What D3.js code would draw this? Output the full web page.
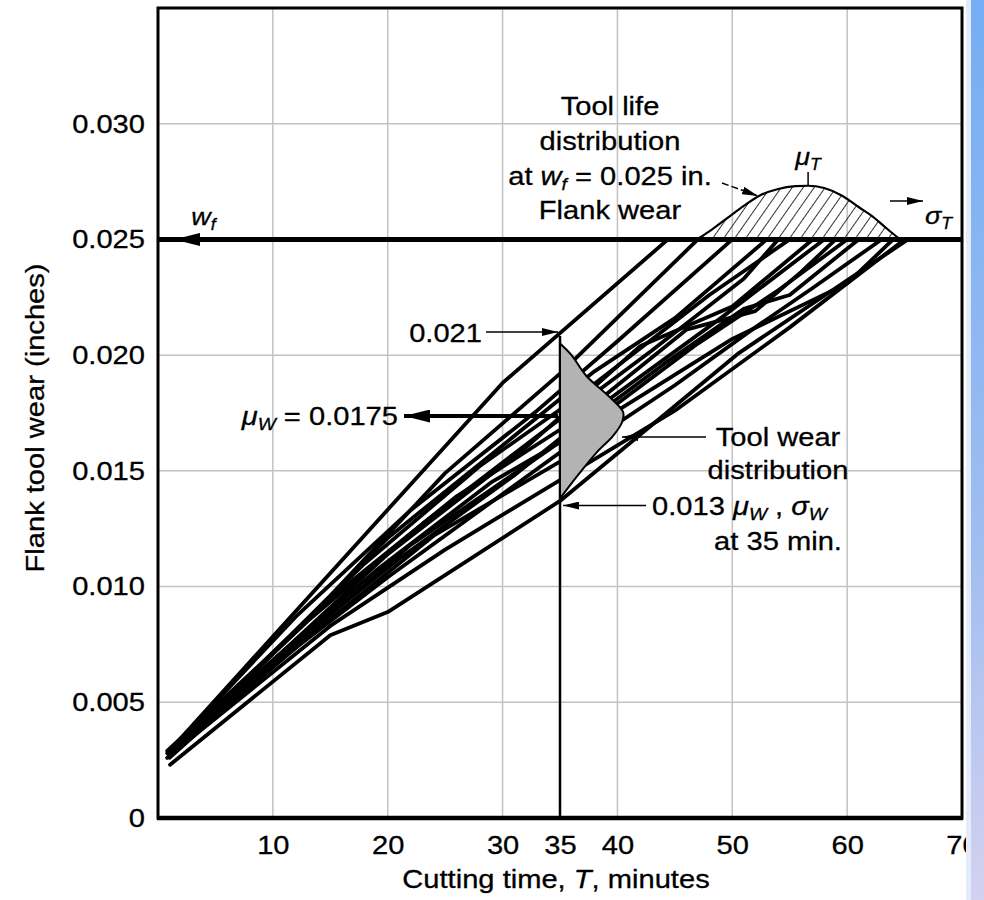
<!DOCTYPE html>
<html>
<head>
<meta charset="utf-8">
<script src="https://cdn.jsdelivr.net/npm/d3@7"></script>
<style>
  body { margin: 0; background: #fff; }
  svg { display: block; font-family: "Liberation Sans", Arial, sans-serif; }
</style>
</head>
<body>
<div id="chart"><svg></svg></div>
<script>
// ---- data ----
const timeTicks = [10, 20, 30, 35, 40, 50, 60, 70];
const wearTicks = [0, 0.005, 0.010, 0.015, 0.020, 0.025, 0.030];
const gridTimes = [10, 20, 30, 40, 50, 60];
const gridWears = [0.005, 0.010, 0.015, 0.020, 0.025, 0.030];
const flankLimit = 0.025;   // w_f
const sampleTime = 35;      // minutes
const wearHigh = 0.021;
const wearMean = 0.0175;
const wearLow = 0.0135;     // arrow position of the "0.013" note

// wear curves of the individual tools: [time (min), flank wear (in)]
const wearPaths = [
  [[0.8, 0.0028], [30, 0.0188], [44.4, 0.025]],
  [[1, 0.0027], [15, 0.0096], [25, 0.0149], [35, 0.0192], [47, 0.025]],
  [[1, 0.0029], [12, 0.0087], [22, 0.0133], [33, 0.0176], [40, 0.0206], [50, 0.025]],
  [[0.9, 0.0028], [13, 0.0085], [23, 0.0127], [33, 0.0165], [43, 0.0202], [51, 0.0233], [54, 0.025]],
  [[0.8, 0.0026], [10, 0.0071], [20, 0.0121], [30, 0.0161], [38, 0.0193], [45, 0.0216], [53, 0.025]],
  [[1, 0.0028], [8, 0.0062], [18, 0.0110], [28, 0.0152], [36, 0.0180], [48, 0.0226], [55, 0.025]],
  [[1, 0.0027], [10, 0.0068], [20, 0.0114], [32, 0.0160], [42, 0.0204], [50, 0.0221], [57, 0.025]],
  [[1, 0.0027], [11, 0.0072], [21, 0.0112], [31, 0.0148], [39, 0.0180], [49, 0.0216], [58, 0.025]],
  [[0.8, 0.0029], [6, 0.0053], [16, 0.0099], [26, 0.0139], [36, 0.0171], [46, 0.0211], [52, 0.0219], [56, 0.0236], [59, 0.025]],
  [[1, 0.0028], [9, 0.0064], [19, 0.0107], [29, 0.0145], [37, 0.0168], [47, 0.0205], [54, 0.0228], [60, 0.025]],
  [[1, 0.0026], [12, 0.0075], [22, 0.0118], [34, 0.0159], [44, 0.0196], [51, 0.0220], [55, 0.0226], [61, 0.025]],
  [[1, 0.0027], [14, 0.0082], [24, 0.0122], [35, 0.0154], [45, 0.0187], [52, 0.0212], [57, 0.0229], [63, 0.025]],
  [[1, 0.0028], [10, 0.0066], [20, 0.0104], [30, 0.0140], [40, 0.0176], [50, 0.0207], [60, 0.0231], [64, 0.025]],
  [[1, 0.0027], [15, 0.0083], [25, 0.0116], [35, 0.0146], [45, 0.0176], [55, 0.0212], [65, 0.025]],
  [[1.05, 0.0023], [15, 0.0079], [20, 0.0089], [35, 0.0137], [50.6, 0.0201], [65.3, 0.025]]
];

// tool life distribution sitting on the w_f line
const toolLifeCurve = [
  [46.9, 0.0250], [48, 0.02535], [49.5, 0.0259], [51, 0.02645], [52.4, 0.0269], [54, 0.02718],
  [55.5, 0.0273], [56.6, 0.02732], [58, 0.02722], [59.6, 0.02688], [61, 0.0264], [62.2, 0.0260],
  [63.5, 0.02545], [64.6, 0.0250]
];
const toolLifeMean = 56.6;

// tool wear distribution at 35 min (drawn sideways)
const toolWearCurve = [
  [35, 0.0205], [36.0, 0.0200], [37.3, 0.0191], [39.3, 0.0182], [40.5, 0.01753],
  [40.4, 0.0171], [39.6, 0.0165], [38.2, 0.0158], [36.7, 0.0149], [35.6, 0.0142], [35, 0.0138]
];

// ---- setup ----
const w = 984;
const h = 900;
const stretch = 1.12; // the lettering of the figure is a bit wide

const svg = d3.select("#chart svg")
  .attr("width", w)
  .attr("height", h)
  .style("background", "#fff");

const x = d3.scaleLinear().domain([0, 70]).range([158, 962]);
const y = d3.scaleLinear().domain([0, 0.035]).range([818, 8]);

const defs = svg.append("defs");

// hatch pattern for the tool life distribution
const hatch = defs.append("pattern")
  .attr("id", "hatch")
  .attr("patternUnits", "userSpaceOnUse")
  .attr("width", 9)
  .attr("height", 9)
  .attr("patternTransform", "rotate(35)");
hatch.append("line")
  .attr("x1", 0).attr("y1", 0).attr("x2", 0).attr("y2", 9)
  .attr("stroke", "#000").attr("stroke-width", 1.6);

// arrow heads
function marker(id, len, wid) {
  defs.append("marker")
    .attr("id", id)
    .attr("markerUnits", "userSpaceOnUse")
    .attr("viewBox", `0 0 ${len} ${wid}`)
    .attr("markerWidth", len)
    .attr("markerHeight", wid)
    .attr("refX", len)
    .attr("refY", wid / 2)
    .attr("orient", "auto")
    .append("path")
    .attr("d", `M0,0L${len},${wid / 2}L0,${wid}Z`)
    .attr("fill", "#000");
}
marker("arrow", 16, 8);
marker("arrowBig", 26, 13);

// blue strip on the right edge of the page
const strip = defs.append("linearGradient")
  .attr("id", "strip").attr("x1", 0).attr("y1", 0).attr("x2", 0).attr("y2", 1);
strip.append("stop").attr("offset", 0).attr("stop-color", "#74aef4");
strip.append("stop").attr("offset", 0.6).attr("stop-color", "#9fbdf0");
strip.append("stop").attr("offset", 1).attr("stop-color", "#d3d1f0");

// text helper: parts are strings or {t, i (italic), sub}
function label(x0, y0, parts, opts = {}) {
  const size = opts.size || 26;
  const rot = opts.rotate ? ` rotate(${opts.rotate})` : "";
  const t = svg.append("text")
    .attr("transform", `translate(${x0},${y0})${rot} scale(${stretch},1)`)
    .attr("text-anchor", opts.anchor || "start")
    .attr("font-size", size)
    .attr("fill", "#000")
    .attr("stroke", "#000")
    .attr("stroke-width", 0.3);
  let shift = 0;
  parts.forEach(p => {
    if (typeof p === "string") p = { t: p };
    const dy = p.sub ? size * 0.2 - shift : -shift;
    shift = p.sub ? size * 0.2 : 0;
    t.append("tspan")
      .attr("dy", dy)
      .attr("font-style", p.i ? "italic" : null)
      .attr("font-size", p.sub ? size * 0.66 : null)
      .text(p.t);
  });
  return t;
}

// ---- grid ----
svg.append("g")
  .selectAll("line")
  .data(gridTimes)
  .join("line")
  .attr("x1", d => x(d)).attr("x2", d => x(d))
  .attr("y1", y(0)).attr("y2", y(0.035))
  .attr("stroke", "#c2c2c2")
  .attr("stroke-width", 1.5);

svg.append("g")
  .selectAll("line")
  .data(gridWears)
  .join("line")
  .attr("x1", x(0)).attr("x2", x(70))
  .attr("y1", d => y(d)).attr("y2", d => y(d))
  .attr("stroke", "#c2c2c2")
  .attr("stroke-width", 1.5);

// ---- wear curves ----
const line = d3.line().x(d => x(d[0])).y(d => y(d[1]));

svg.append("g")
  .selectAll("path")
  .data(wearPaths)
  .join("path")
  .attr("d", line)
  .attr("fill", "none")
  .attr("stroke", "#000")
  .attr("stroke-width", 3.8)
  .attr("stroke-linejoin", "round")
  .attr("stroke-linecap", "round");

// tool life distribution (hatched)
svg.append("path")
  .attr("d", d3.line().x(d => x(d[0])).y(d => y(d[1])).curve(d3.curveMonotoneX)(toolLifeCurve))
  .attr("fill", "url(#hatch)")
  .attr("stroke", "#000")
  .attr("stroke-width", 2.2);

// vertical line at 35 min
svg.append("line")
  .attr("x1", x(sampleTime)).attr("x2", x(sampleTime))
  .attr("y1", y(0)).attr("y2", y(wearHigh) + 4)
  .attr("stroke", "#000")
  .attr("stroke-width", 2.5);

// tool wear distribution (grey)
svg.append("path")
  .attr("d", d3.line().x(d => x(d[0])).y(d => y(d[1])).curve(d3.curveCatmullRom)(toolWearCurve) + "Z")
  .attr("fill", "#b3b3b3")
  .attr("stroke", "#000")
  .attr("stroke-width", 2);

// ---- w_f limit line ----
svg.append("line")
  .attr("x1", x(0)).attr("x2", x(70))
  .attr("y1", y(flankLimit)).attr("y2", y(flankLimit))
  .attr("stroke", "#000")
  .attr("stroke-width", 5);
svg.append("line")
  .attr("x1", x(4)).attr("x2", x(1.4))
  .attr("y1", y(flankLimit)).attr("y2", y(flankLimit))
  .attr("stroke", "#000")
  .attr("stroke-width", 3)
  .attr("marker-end", "url(#arrowBig)");
label(x(2.9), y(flankLimit) - 14, [{ t: "w", i: true }, { t: "f", i: true, sub: true }], { size: 24 });

// ---- frame ----
svg.append("rect")
  .attr("x", x(0)).attr("y", y(0.035))
  .attr("width", x(70) - x(0)).attr("height", y(0) - y(0.035))
  .attr("fill", "none")
  .attr("stroke", "#000")
  .attr("stroke-width", 3);
svg.append("line")
  .attr("x1", x(0) - 1).attr("x2", x(70) + 1)
  .attr("y1", y(0)).attr("y2", y(0))
  .attr("stroke", "#000")
  .attr("stroke-width", 4.5);

// ---- axes ----
svg.append("g")
  .attr("transform", `translate(${x(0)},0)`)
  .call(d3.axisLeft(y).tickValues(wearTicks).tickSize(0).tickPadding(13)
    .tickFormat(d => d === 0 ? "0" : d3.format(".3f")(d)))
  .call(g => g.select(".domain").remove())
  .call(g => g.selectAll("text")
    .attr("font-size", 26)
    .attr("font-family", "Liberation Sans, Arial, sans-serif")
    .attr("fill", "#000")
    .attr("stroke", "#000")
    .attr("stroke-width", 0.3)
    .attr("x", -13 / stretch)
    .attr("transform", `scale(${stretch},1)`));

svg.append("g")
  .attr("transform", `translate(0,${y(0)})`)
  .call(d3.axisBottom(x).tickValues(timeTicks).tickSize(0).tickPadding(18))
  .call(g => g.select(".domain").remove())
  .call(g => g.selectAll("text")
    .attr("font-size", 26)
    .attr("font-family", "Liberation Sans, Arial, sans-serif")
    .attr("fill", "#000")
    .attr("stroke", "#000")
    .attr("stroke-width", 0.3)
    .attr("transform", `scale(${stretch},1)`));

label(556, 888, ["Cutting time, ", { t: "T", i: true }, ", minutes"], { anchor: "middle" });
label(44, 418, ["Flank tool wear (inches)"], { anchor: "middle", rotate: -90 });

// ---- tool life notes ----
label(610, 115, ["Tool life"], { anchor: "middle" });
label(610, 150, ["distribution"], { anchor: "middle" });
label(610, 185, ["at ", { t: "w", i: true }, { t: "f", i: true, sub: true }, " = 0.025 in."], { anchor: "middle" });
label(610, 219, ["Flank wear"], { anchor: "middle" });
svg.append("line")
  .attr("x1", 722).attr("y1", 183).attr("x2", 758).attr("y2", 196)
  .attr("stroke", "#000").attr("stroke-width", 1.5)
  .attr("stroke-dasharray", "7,3")
  .attr("marker-end", "url(#arrow)");

label(x(toolLifeMean), 165, [{ t: "μ", i: true }, { t: "T", i: true, sub: true }], { anchor: "middle", size: 24 });
svg.append("line")
  .attr("x1", x(toolLifeMean)).attr("x2", x(toolLifeMean))
  .attr("y1", 172).attr("y2", y(0.02732))
  .attr("stroke", "#000").attr("stroke-width", 1.5);

svg.append("line")
  .attr("x1", 890).attr("x2", 923).attr("y1", 201).attr("y2", 201)
  .attr("stroke", "#000").attr("stroke-width", 1.5)
  .attr("marker-end", "url(#arrow)");
label(925, 224, [{ t: "σ", i: true }, { t: "T", i: true, sub: true }], { size: 24 });

// ---- tool wear notes ----
label(482, y(wearHigh) + 10, ["0.021"], { anchor: "end" });
svg.append("line")
  .attr("x1", 486).attr("x2", x(sampleTime) - 2)
  .attr("y1", y(wearHigh)).attr("y2", y(wearHigh))
  .attr("stroke", "#000").attr("stroke-width", 1.5)
  .attr("marker-end", "url(#arrow)");

label(398, y(wearMean) + 12, [{ t: "μ", i: true }, { t: "W", i: true, sub: true }, " = 0.0175"], { anchor: "end" });
svg.append("line")
  .attr("x1", x(sampleTime) - 2).attr("x2", 404)
  .attr("y1", y(wearMean) + 3).attr("y2", y(wearMean) + 3)
  .attr("stroke", "#000").attr("stroke-width", 4)
  .attr("marker-end", "url(#arrowBig)");

label(778, 446, ["Tool wear"], { anchor: "middle" });
label(778, 479, ["distribution"], { anchor: "middle" });
svg.append("line")
  .attr("x1", 706).attr("x2", 622)
  .attr("y1", 437).attr("y2", 437)
  .attr("stroke", "#000").attr("stroke-width", 1.5)
  .attr("marker-end", "url(#arrow)");

label(652, y(wearLow) + 9, ["0.013 ", { t: "μ", i: true }, { t: "W", i: true, sub: true }, " , ", { t: "σ", i: true }, { t: "W", i: true, sub: true }]);
svg.append("line")
  .attr("x1", 646).attr("x2", x(sampleTime) + 3)
  .attr("y1", y(wearLow)).attr("y2", y(wearLow))
  .attr("stroke", "#000").attr("stroke-width", 1.5)
  .attr("marker-end", "url(#arrow)");
label(778, 550, ["at 35 min."], { anchor: "middle" });

// page edge
svg.append("rect").attr("x", 966).attr("y", 0).attr("width", 5).attr("height", h).attr("fill", "#e4ecfb");
svg.append("rect").attr("x", 971).attr("y", 0).attr("width", 13).attr("height", h).attr("fill", "url(#strip)");
</script>
</body>
</html>
